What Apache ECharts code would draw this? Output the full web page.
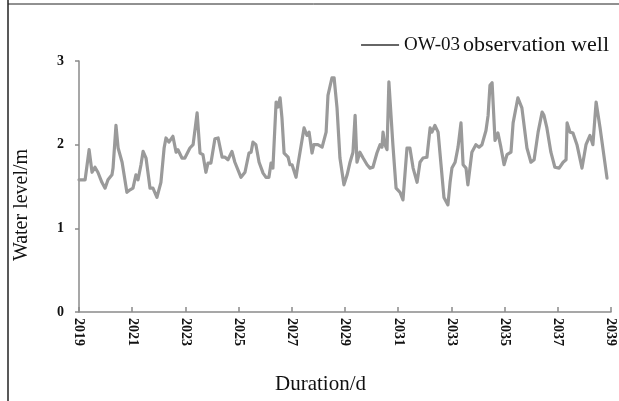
<!DOCTYPE html>
<html>
<head>
<meta charset="utf-8">
<script src="https://cdn.jsdelivr.net/npm/echarts@6/dist/echarts.min.js"></script>
<style>html,body{margin:0;padding:0;background:#fff}#c{width:619px;height:401px}</style>
</head>
<body>
<div id="c"></div>
<script>
// Decimal year of each reading
var times = [2019.00,2019.23,2019.38,2019.49,2019.60,2019.71,2019.86,2019.98,2020.09,2020.24,2020.28,2020.39,2020.47,2020.62,2020.80,2020.92,
2021.03,2021.14,2021.22,2021.33,2021.41,2021.52,2021.67,2021.78,2021.93,2022.08,2022.20,2022.27,2022.38,2022.53,2022.65,2022.72,2022.87,2022.98,
2023.17,2023.29,2023.44,2023.55,2023.66,2023.77,2023.85,2023.96,2024.11,2024.23,2024.38,2024.49,2024.60,2024.75,2024.86,
2025.09,2025.24,2025.39,2025.47,2025.54,2025.65,2025.77,2025.92,2026.03,2026.14,2026.22,2026.29,2026.41,2026.48,2026.56,2026.63,2026.71,2026.86,2026.93,
2027.01,2027.16,2027.23,2027.46,2027.57,2027.65,2027.76,2027.83,2027.98,2028.14,2028.29,2028.36,2028.51,2028.59,2028.70,2028.81,2028.96,
2029.08,2029.19,2029.30,2029.38,2029.45,2029.56,2029.68,2029.83,2029.94,2030.05,2030.20,2030.32,2030.39,2030.43,2030.50,2030.58,2030.65,2030.80,2030.92,
2031.07,2031.18,2031.33,2031.44,2031.56,2031.71,2031.82,2031.93,2032.08,2032.20,2032.27,2032.38,2032.50,2032.61,2032.72,2032.87,2032.95,
2033.02,2033.14,2033.25,2033.32,2033.36,2033.44,2033.55,2033.62,2033.77,2033.92,2034.04,2034.15,2034.30,2034.38,2034.45,2034.53,2034.64,2034.75,2034.86,2034.98,
2035.09,2035.24,2035.32,2035.50,2035.65,2035.84,2035.99,2036.11,2036.26,2036.41,2036.48,2036.59,2036.74,2036.89,
2037.05,2037.20,2037.31,2037.35,2037.46,2037.57,2037.72,2037.91,2038.06,2038.21,2038.32,2038.44,2038.59,2038.85];
// Water level (m)
var levels = [1.58,1.58,1.94,1.67,1.73,1.67,1.55,1.48,1.58,1.64,1.72,2.23,1.96,1.79,1.43,1.46,
1.48,1.64,1.58,1.76,1.92,1.84,1.48,1.48,1.37,1.55,1.96,2.08,2.03,2.10,1.91,1.94,1.84,1.84,
1.96,2.00,2.38,1.90,1.88,1.67,1.78,1.78,2.07,2.08,1.85,1.85,1.82,1.92,1.79,
1.61,1.67,1.90,1.91,2.03,2.00,1.79,1.66,1.61,1.61,1.78,1.72,2.51,2.45,2.56,2.32,1.90,1.85,1.76,
1.76,1.61,1.76,2.20,2.11,2.15,1.90,2.00,2.00,1.97,2.15,2.59,2.80,2.80,2.44,1.84,1.52,
1.64,1.79,1.91,2.35,1.79,1.91,1.84,1.76,1.72,1.73,1.90,2.00,1.97,2.15,2.00,1.94,2.75,2.00,1.48,
1.43,1.34,1.96,1.96,1.72,1.55,1.79,1.84,1.85,2.20,2.15,2.23,2.15,1.76,1.37,1.28,1.55,
1.72,1.79,1.97,1.96,2.26,1.76,1.72,1.52,1.91,2.00,1.97,2.00,2.17,2.35,2.71,2.74,2.05,2.14,1.97,1.76,
1.88,1.91,2.26,2.56,2.44,1.96,1.79,1.82,2.15,2.39,2.35,2.20,1.91,1.73,
1.72,1.79,1.82,2.26,2.15,2.14,2.00,1.72,2.00,2.11,2.00,2.51,2.20,1.60];
var seriesName = 'OW-03 observation well';
var xTicks = [2019,2021,2023,2025,2027,2029,2031,2033,2035,2037,2039];
var yTicks = [0,1,2,3];

var serif = "'Liberation Serif','Times New Roman',serif";
var pts = times.map(function(t,i){return [t, levels[i]];});
var chart = echarts.init(document.getElementById('c'));
chart.setOption({
  backgroundColor:'#fff',
  animation:false,
  grid:{left:79,right:8,top:61,bottom:89,containLabel:false},
  legend:{
    data:[{name:seriesName,icon:'rect'}],
    right:5, top:29, itemWidth:38, itemHeight:1.5,
    itemStyle:{color:'#333'},
    formatter:function(){return '{a|OW-03} {b|observation well}';},
    textStyle:{color:'#111',fontFamily:serif,
      rich:{a:{fontSize:19,fontFamily:serif,color:'#111'},b:{fontSize:22,fontFamily:serif,color:'#111'}}}
  },
  xAxis:{
    type:'value', min:xTicks[0], max:xTicks[xTicks.length-1], interval:2,
    axisLine:{lineStyle:{color:'#8a8a8a',width:1.5}},
    axisTick:{inside:true,length:5,lineStyle:{color:'#8a8a8a',width:1.5}},
    splitLine:{show:false},
    axisLabel:{rotate:-90,margin:6,color:'#111',fontWeight:'bold',fontSize:14,fontFamily:serif,
      formatter:function(v){return String(v);}}
  },
  yAxis:{
    type:'value', min:yTicks[0], max:yTicks[yTicks.length-1], interval:1,
    axisLine:{show:true,lineStyle:{color:'#8a8a8a',width:1.5}},
    axisTick:{show:true,length:4,lineStyle:{color:'#8a8a8a',width:1.5}},
    splitLine:{show:false},
    axisLabel:{margin:15,color:'#111',fontWeight:'bold',fontSize:14,fontFamily:serif}
  },
  graphic:[
    {type:'line',shape:{x1:8,y1:0,x2:8,y2:401},style:{stroke:'#222',lineWidth:1.5}},
    {type:'line',shape:{x1:8,y1:4,x2:619,y2:4},style:{stroke:'#222',lineWidth:1}},
    {type:'text',left:275,top:374,style:{text:'Duration/d',font:'21px '+serif,fill:'#111'}},
    {type:'text',x:22,y:205,rotation:Math.PI/2,style:{text:'Water level/m',font:'20px '+serif,fill:'#111',align:'center',verticalAlign:'middle'}}
  ],
  series:[{
    name:seriesName, type:'line', data:pts, showSymbol:false, symbol:'none',
    lineStyle:{color:'#9a9a9a',width:3.2,join:'round',cap:'round'}, itemStyle:{color:'#9a9a9a'}
  }]
});
</script>
</body>
</html>
